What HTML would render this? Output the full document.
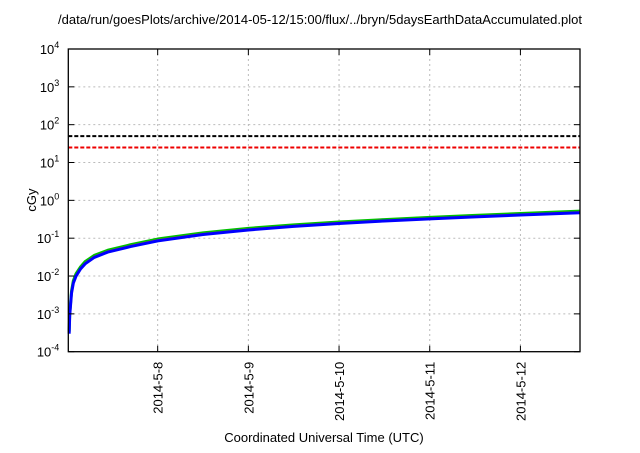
<!DOCTYPE html>
<html><head><meta charset="utf-8"><style>
body{margin:0;background:#fff;font-family:"Liberation Sans",sans-serif}
</style></head><body>
<svg width="640" height="448" xmlns="http://www.w3.org/2000/svg" font-family="Liberation Sans, sans-serif">
<rect width="640" height="448" fill="#fff"/>
<text x="320" y="24" font-size="13" text-anchor="middle">/data/run/goesPlots/archive/2014-05-12/15:00/flux/../bryn/5daysEarthDataAccumulated.plot</text>
<g id="grid"></g>
<g id="series"></g>
<rect x="68.3" y="49" width="511.7" height="302.7" fill="none" stroke="#000" stroke-width="1.3"/>
<g id="axes"></g>
<text x="36" y="200" font-size="13" text-anchor="middle" transform="rotate(-90 36 200)">cGy</text>
<text x="324" y="442" font-size="13" text-anchor="middle">Coordinated Universal Time (UTC)</text>
</svg>
<script>
const xTickLabels=["2014-5-8","2014-5-9","2014-5-10","2014-5-11","2014-5-12"];
const xTickDays=[8,9,10,11,12];
const yTickExps=[-4,-3,-2,-1,0,1,2,3,4];
const days=[7.024,7.03,7.05,7.07,7.1,7.15,7.2,7.3,7.45,7.7,8.0,8.5,9,9.5,10,10.5,11,11.5,12,12.657];
const blueVals=[0.0003,0.0009,0.0035,0.0065,0.010,0.0155,0.021,0.031,0.043,0.060,0.085,0.125,0.165,0.205,0.245,0.285,0.325,0.365,0.41,0.47];
const greenVals=[0.00034,0.001,0.004,0.0075,0.0115,0.0175,0.024,0.035,0.048,0.067,0.095,0.138,0.182,0.225,0.268,0.31,0.355,0.40,0.45,0.52];
const redVals=[0.00032,0.00095,0.0037,0.007,0.0108,0.0165,0.0225,0.033,0.0455,0.0635,0.09,0.132,0.174,0.215,0.257,0.298,0.34,0.383,0.43,0.495];
const limitBlack=50, limitRed=25;
const L=68.3,R=580,T=49,B=351.7,d0=7.0145,d1=12.657;
const X=d=>L+(d-d0)/(d1-d0)*(R-L);
const Y=v=>B-(Math.log10(v)+4)/8*(B-T);
const NS="http://www.w3.org/2000/svg";
function mk(p,t,a){const e=document.createElementNS(NS,t);for(const k in a)e.setAttribute(k,a[k]);p.appendChild(e);return e;}
const g=document.getElementById('grid'),ax=document.getElementById('axes'),s=document.getElementById('series');
yTickExps.forEach(ex=>{const y=Y(Math.pow(10,ex));
 if(ex>-4&&ex<4){const l=mk(g,'line',{x1:L,x2:R,y1:y,y2:y,stroke:'#bbb','stroke-dasharray':'2,3','stroke-width':1});
 }
 mk(ax,'line',{x1:L,x2:L+6,y1:y,y2:y,stroke:'#000'});mk(ax,'line',{x1:R-6,x2:R,y1:y,y2:y,stroke:'#000'});
 const t=mk(ax,'text',{x:L-9,y:y+5,'font-size':13,'text-anchor':'end'});
 
 t.textContent='10';const sp=mk(t,'tspan',{dy:-6,'font-size':9});sp.textContent=String(ex);
});
xTickDays.forEach((d,i)=>{const x=X(d);
 const l=mk(g,'line',{x1:x,x2:x,y1:T,y2:B,stroke:'#bbb','stroke-dasharray':'2,3','stroke-width':1});
 
 mk(ax,'line',{x1:x,x2:x,y1:B-6,y2:B,stroke:'#000'});mk(ax,'line',{x1:x,x2:x,y1:T,y2:T+6,stroke:'#000'});
 const t=mk(ax,'text',{x:x+5,y:B+10,'font-size':13,'text-anchor':'end',transform:`rotate(-90 ${x+5} ${B+10})`});
 
 t.textContent=xTickLabels[i];
});
function hline(v,c,n){const l=mk(s,'line',{x1:L,x2:R,y1:Y(v),y2:Y(v),stroke:c,'stroke-width':2,'stroke-dasharray':'4,2'});
 }
hline(limitBlack,'#000','limit-line-black');hline(limitRed,'#e00','limit-line-red');
function line(vals,c,w,n){const p=mk(s,'polyline',{points:days.map((d,i)=>X(d)+','+Y(vals[i])).join(' '),fill:'none',stroke:c,'stroke-width':w,'stroke-linejoin':'round'});
 }
line(greenVals,'#00c000',3,'series-green');line(redVals,'#e04040',1.5,'series-red');line(blueVals,'#0000ff',3,'series-blue');
</script>
</body></html>
